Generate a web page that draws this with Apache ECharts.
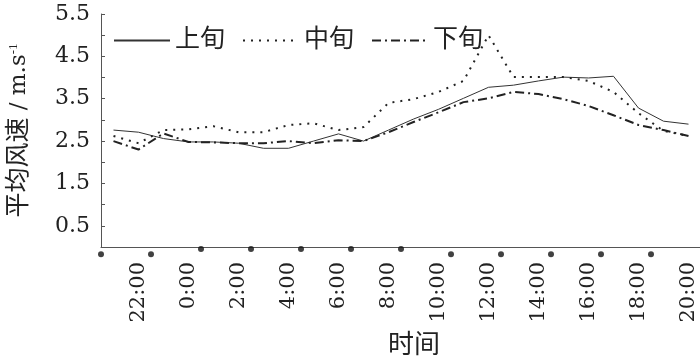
<!DOCTYPE html>
<html>
<head>
<meta charset="utf-8">
<script src="https://cdn.jsdelivr.net/npm/echarts@6/dist/echarts.min.js"></script>
<style>
html,body{margin:0;padding:0;background:#fff;}
#chart{width:700px;height:358px;}
</style>
</head>
<body>
<div id="chart"></div>
<script>
// hourly categories (data points at band centres)
var hours = ['21:00','22:00','23:00','0:00','1:00','2:00','3:00','4:00','5:00','6:00','7:00','8:00',
             '9:00','10:00','11:00','12:00','13:00','14:00','15:00','16:00','17:00','18:00','19:00','20:00'];
var seriesNames = ['上旬','中旬','下旬'];
var upper  = [2.76,2.71,2.56,2.48,2.48,2.45,2.33,2.33,2.50,2.67,2.50,2.76,3.02,3.25,3.51,3.77,3.82,3.92,4.01,3.99,4.03,3.28,2.97,2.90];
var middle = [2.62,2.45,2.76,2.78,2.85,2.71,2.71,2.88,2.92,2.76,2.83,3.40,3.49,3.66,3.92,5.00,4.01,4.01,4.01,3.92,3.66,3.16,2.74,2.62];
var lower  = [2.50,2.30,2.68,2.48,2.47,2.45,2.45,2.50,2.45,2.52,2.50,2.71,2.95,3.18,3.42,3.51,3.66,3.61,3.49,3.33,3.11,2.88,2.76,2.62];
// bullet marks under the time axis (position in hours from left edge, value)
var dotX = [0,2,4,6,8,10,12,14,16,18,20,22];
var dotY = [-0.17,-0.17,-0.05,-0.05,-0.05,-0.05,-0.05,-0.17,-0.17,-0.17,-0.17,-0.17];
var yTicks = {min:0, max:5.5, interval:0.5};

var NUMFONT = "'DejaVu Serif','Liberation Serif',serif";
var FONT = "'Liberation Serif','Noto Sans CJK SC',serif";
var chart = echarts.init(document.getElementById('chart'));
var axisCol = '#555';
chart.setOption({
  backgroundColor:'#fff',
  animation:false,
  grid:{left:101, top:14, width:600, height:233, containLabel:false, outerBoundsMode:'none'},
  legend:{
    left:113, top:28, padding:0, itemWidth:56, itemHeight:14, itemGap:17,
    data:seriesNames,
    itemStyle:{opacity:0},
    textStyle:{fontSize:25, color:'#222', fontFamily:FONT}
  },
  xAxis:[{
    type:'category', data:hours, boundaryGap:true,
    axisLine:{lineStyle:{color:axisCol, width:1}},
    axisTick:{inside:true, length:4, interval:0, lineStyle:{color:axisCol}},
    axisLabel:{
      interval:function(i){return i%2===1;},
      rotate:90, margin:15, fontSize:21, color:'#222', fontFamily:NUMFONT
    },
    splitLine:{show:false},
    name:'时间', nameLocation:'middle', nameGap:86,
    nameTextStyle:{fontSize:26, color:'#222', fontFamily:FONT, padding:[0,0,0,26]}
  },{
    type:'value', min:0, max:24, show:false
  }],
  yAxis:{
    type:'value', min:yTicks.min, max:yTicks.max, interval:yTicks.interval,
    axisLine:{show:true, lineStyle:{color:axisCol, width:1}},
    axisTick:{show:true, inside:true, length:4, lineStyle:{color:axisCol}},
    splitLine:{show:false},
    axisLabel:{
      margin:11, fontSize:22, color:'#222', fontFamily:NUMFONT,
      formatter:function(v){return (Math.round(v*2)%2===1)? v.toFixed(1) : '';}
    },
    name:'{c|平均风速}{t| / m.s}{sup|-1}', nameLocation:'middle', nameGap:69,
    nameTextStyle:{color:'#222',
      rich:{
        c:{fontSize:25, color:'#222', fontFamily:FONT},
        t:{fontSize:23, color:'#222', fontFamily:NUMFONT},
        sup:{fontSize:13, verticalAlign:'top', color:'#222', fontFamily:FONT}
      }}
  },
  series:[
    {name:'上旬', type:'line', data:upper, symbol:'none', showSymbol:false,
     lineStyle:{color:'#333', width:1, type:'solid'}, itemStyle:{color:'#333'}},
    {name:'中旬', type:'line', data:middle, symbol:'none', showSymbol:false,
     lineStyle:{color:'#222', width:2, type:[2,6]}, itemStyle:{color:'#222'}},
    {name:'下旬', type:'line', data:lower, symbol:'none', showSymbol:false,
     lineStyle:{color:'#222', width:2, type:[9,4,2,4]}, itemStyle:{color:'#222'}},
    {name:'marks', type:'scatter', xAxisIndex:1, clip:false, symbolSize:6,
     data:dotX.map(function(x,i){return [x, dotY[i]];}),
     itemStyle:{color:'#111'}, silent:true}
  ]
});
</script>
</body>
</html>
